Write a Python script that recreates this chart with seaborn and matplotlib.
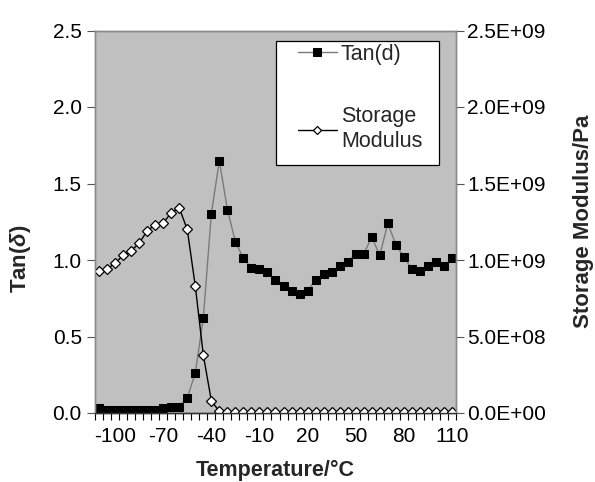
import numpy as np
import pandas as pd
import matplotlib
matplotlib.use("Agg")
import matplotlib.pyplot as plt
import seaborn as sns
from matplotlib.ticker import FuncFormatter, FixedLocator
from matplotlib.patches import Rectangle

sns.set_theme(style="white")
plt.rcParams['font.family'] = ['Liberation Sans', 'DejaVu Sans']
plt.rcParams['mathtext.fontset'] = 'custom'
plt.rcParams['mathtext.it'] = 'Liberation Sans:italic:bold'

temperature = list(range(-110, 115, 5))
tan_d = [0.03, 0.02, 0.02, 0.02, 0.02, 0.02, 0.02, 0.02, 0.03, 0.04,
         0.04, 0.10, 0.26, 0.62, 1.30, 1.65, 1.33, 1.12, 1.01, 0.95,
         0.94, 0.92, 0.87, 0.83, 0.80, 0.78, 0.80, 0.87, 0.91, 0.92,
         0.96, 0.99, 1.04, 1.04, 1.15, 1.03, 1.24, 1.10, 1.02, 0.94,
         0.93, 0.96, 0.99, 0.96, 1.01]
storage_modulus = [0.93e9, 0.94e9, 0.98e9, 1.03e9, 1.06e9, 1.11e9, 1.19e9, 1.23e9,
                   1.24e9, 1.31e9, 1.34e9, 1.20e9, 0.83e9, 0.38e9, 0.08e9, 0.01e9] + [0.004e9] * 29
x_tick_labels = [-100, -70, -40, -10, 20, 50, 80, 110]

df = pd.DataFrame({"Temperature": temperature, "Tan": tan_d, "E": storage_modulus})

fig = plt.figure(figsize=(5.95, 4.82), dpi=100)
ax = fig.add_axes([95/595, 1-413/482, 361/595, 382.5/482])
ax.set_facecolor('#c0c0c0')
ax2 = ax.twinx()

sns.lineplot(data=df, x="Temperature", y="Tan", ax=ax, color='#7a7a7a', lw=1.0,
             marker='s', markersize=6, markerfacecolor='black', markeredgecolor='black',
             label='Tan(d)', legend=False)
sns.lineplot(data=df, x="Temperature", y="E", ax=ax2, color='black', lw=1.0,
             marker='D', markersize=5, markerfacecolor='white', markeredgecolor='black',
             markeredgewidth=0.9, label='Storage\nModulus', legend=False)

ax.set_xlim(-112.5, 112.5)
ax.set_ylim(0, 2.5)
ax2.set_ylim(0, 2.5e9)
ax.set_yticks([0, 0.5, 1.0, 1.5, 2.0, 2.5])
ax.yaxis.set_major_formatter(FuncFormatter(lambda v, p: f"{v:.1f}"))
ax2.set_yticks([0, 0.5e9, 1.0e9, 1.5e9, 2.0e9, 2.5e9])
ax2.yaxis.set_major_formatter(FuncFormatter(lambda v, p: f"{v:.1E}"))

ax.set_xticks(x_tick_labels)
ax.set_xticklabels([str(v) for v in x_tick_labels])
ax.xaxis.set_minor_locator(FixedLocator(np.arange(-112.5, 113, 5)))
ax.tick_params(axis='x', which='major', length=0, labelsize=15, pad=10, colors='black')
ax.tick_params(axis='x', which='minor', length=5, width=0.8, direction='out', color='black', bottom=True)
ax.tick_params(axis='y', which='major', length=6, width=0.8, direction='out', labelsize=15, left=True, color='#555555', labelcolor='black')
ax2.tick_params(axis='y', which='major', length=6, width=0.8, direction='out', labelsize=15, right=True, color='#555555', labelcolor='black', pad=2)

for a in (ax, ax2):
    for s in ['top', 'left', 'right']:
        a.spines[s].set_color('#8a8a8a')
        a.spines[s].set_linewidth(1.0)
    a.spines['bottom'].set_color('#333333')
    a.spines['bottom'].set_linewidth(1.0)

ax.set_xlabel('Temperature/°C', fontsize=15.5, fontweight='bold')
ax.xaxis.set_label_coords(0.5, -0.122)
ax.set_ylabel(r'Tan($\delta$)', fontsize=16, fontweight='bold')
ax.yaxis.set_label_coords(-0.172, 0.403)
ax2.set_ylabel('Storage Modulus/Pa', fontsize=16, fontweight='bold')
ax2.yaxis.set_label_coords(1.324, 0.5)

# legend frame
ax2.add_patch(Rectangle((0.501, 0.648), 0.452, 0.3245, transform=ax2.transAxes,
                        facecolor='white', edgecolor='black', lw=0.9, zorder=4))
h1, l1 = ax.get_legend_handles_labels()
h2, l2 = ax2.get_legend_handles_labels()
leg = ax2.legend(h1 + h2, l1 + l2, loc='upper left', bbox_to_anchor=(0.562, 0.966),
                 borderaxespad=0, frameon=False, fontsize=15.5, labelspacing=1.95,
                 handlelength=1.8, handletextpad=0.2, borderpad=0, markerscale=0.9)
leg.set_zorder(6)

fig.savefig('out.png', dpi=100, facecolor='white')
